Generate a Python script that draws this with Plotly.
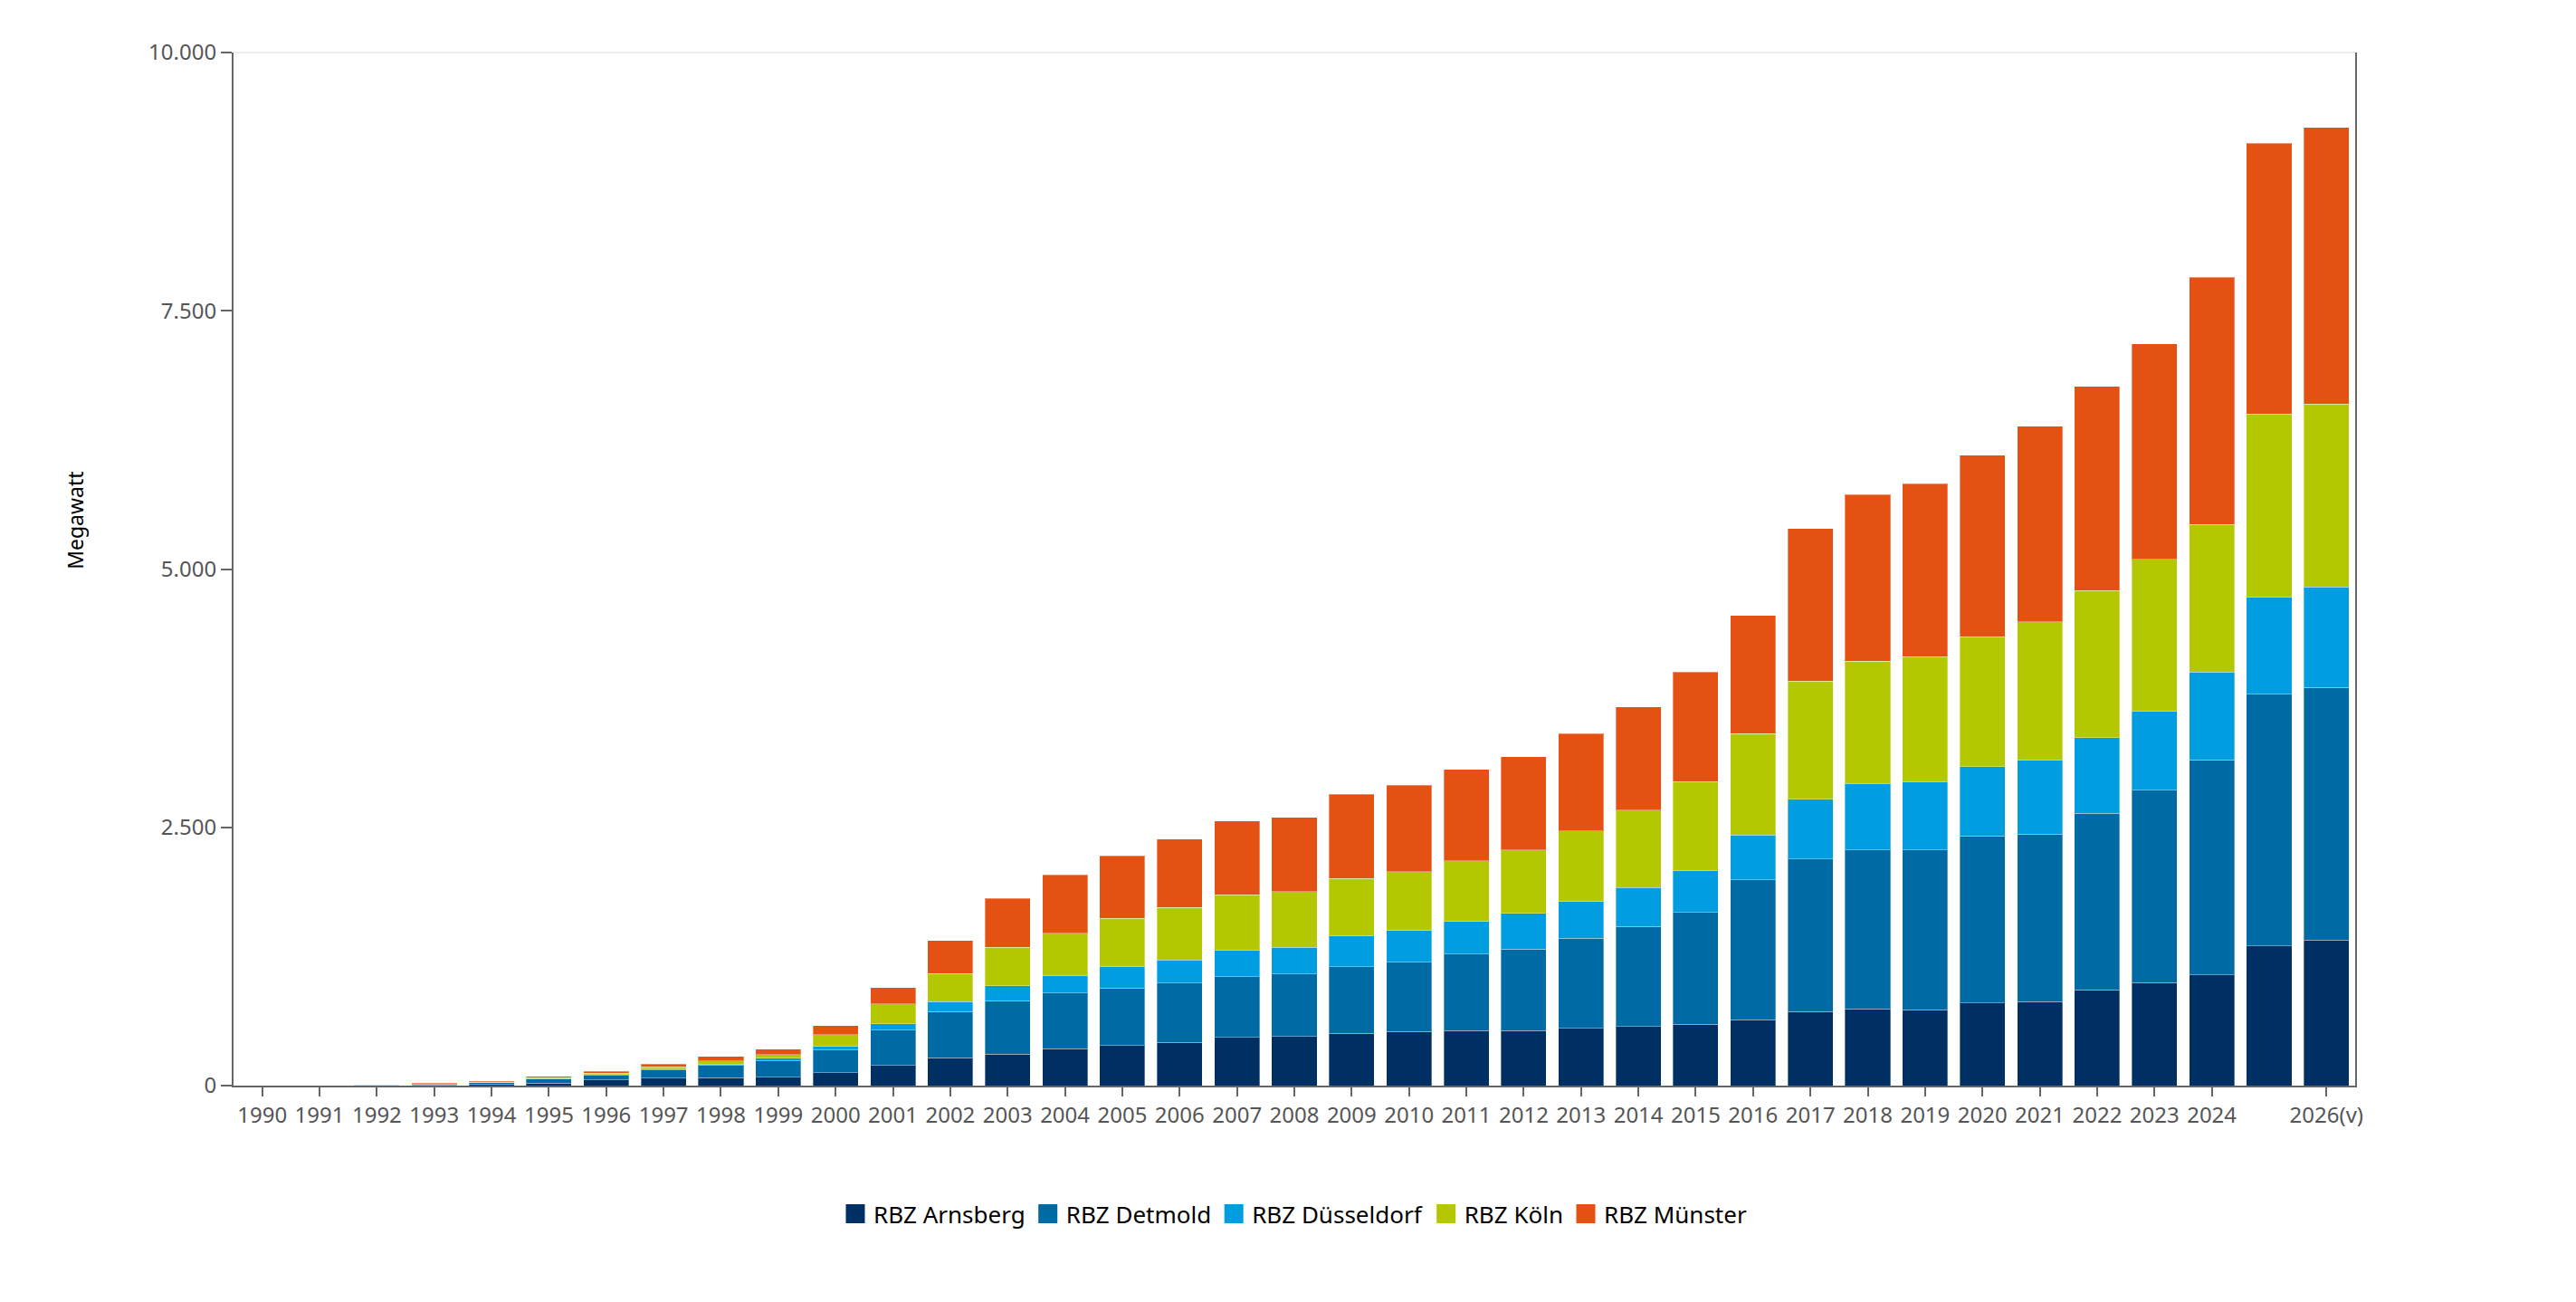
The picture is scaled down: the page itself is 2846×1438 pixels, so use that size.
import plotly.graph_objects as go

# Installed capacity per district (Regierungsbezirk), in megawatt
years = [str(y) for y in range(1990, 2026)] + ["2026(v)"]
tick_labels = [str(y) for y in range(1990, 2025)] + ["", "2026(v)"]

arnsberg = [0, 0, 2, 8, 15, 26, 53, 73, 76, 82, 126, 193, 268, 306, 355, 387, 419, 467, 475,
            508, 524, 532, 532, 556, 572, 596, 637, 717, 741, 733, 798, 814, 927, 999, 1072, 1354, 1410]
detmold = [0, 0, 2, 8, 14, 36, 47, 79, 120, 158, 219, 345, 448, 516, 539, 556, 572, 589, 605,
           644, 669, 741, 789, 870, 967, 1080, 1353, 1475, 1539, 1547, 1619, 1619, 1708, 1862, 2079, 2433, 2442]
duesseldorf = [0, 0, 1, 2, 3, 8, 8, 9, 9, 24, 40, 59, 96, 145, 170, 209, 226, 257, 258,
               298, 306, 314, 347, 355, 379, 403, 435, 580, 645, 661, 669, 718, 733, 765, 854, 943, 975]
koeln = [0, 0, 1, 2, 3, 6, 12, 21, 35, 38, 110, 193, 274, 371, 411, 468, 507, 532, 539,
         556, 572, 589, 612, 685, 749, 862, 984, 1144, 1185, 1209, 1257, 1337, 1426, 1467, 1426, 1773, 1772]
muenster = [0, 0, 4, 6, 6, 15, 18, 26, 41, 50, 85, 158, 319, 475, 564, 604, 661, 717, 718,
            814, 838, 886, 903, 943, 999, 1064, 1144, 1475, 1611, 1676, 1757, 1894, 1975, 2087, 2393, 2619, 2676]

series = [
    ("RBZ Arnsberg", arnsberg, "#003063"),
    ("RBZ Detmold", detmold, "#006aa5"),
    ("RBZ Düsseldorf", duesseldorf, "#009ee0"),
    ("RBZ Köln", koeln, "#b3c800"),
    ("RBZ Münster", muenster, "#e55113"),
]

FONT = "Noto Sans, Open Sans, sans-serif"

fig = go.Figure()
for name, vals, color in series:
    fig.add_trace(go.Bar(
        x=years, y=vals, name=name, showlegend=False,
        marker=dict(color=color, line=dict(color="rgba(255,255,255,0.35)", width=1)),
    ))
    # legend entry only: bigger square symbol than plotly's bar swatch
    fig.add_trace(go.Scatter(
        x=[None], y=[None], mode="markers", name=name,
        marker=dict(symbol="square", size=16, color=color, line=dict(color=color, width=5)),
    ))

fig.update_layout(
    barmode="stack",
    bargap=0.21,
    width=2846, height=1438,
    margin=dict(l=250, r=252, t=50, b=247),
    plot_bgcolor="white", paper_bgcolor="white",
    font=dict(family=FONT, size=24, color="#555555"),
    showlegend=True,
    legend=dict(
        orientation="h", x=0.5, xanchor="center", y=-0.124, yanchor="middle",
        font=dict(size=26, color="#000000"), traceorder="normal",
        itemwidth=30,
    ),
    xaxis=dict(
        type="category",
        tickmode="array",
        tickvals=[y for y, t in zip(years, tick_labels) if t],
        ticktext=[t for t in tick_labels if t],
        ticks="outside", ticklen=10, tickcolor="#666666", tickwidth=2,
        showline=True, linecolor="#666666", linewidth=2,
        showgrid=False, automargin=False,
        tickfont=dict(size=24, color="#555555"),
    ),
    yaxis=dict(
        range=[0, 10000],
        tickvals=[0, 2500, 5000, 7500, 10000],
        ticktext=["0", "2.500", "5.000", "7.500", "10.000"],
        ticks="outside", ticklen=12, tickcolor="#666666", tickwidth=2,
        showline=True, linecolor="#666666", linewidth=2, mirror=True,
        showgrid=False, zeroline=False, automargin=False,
        tickfont=dict(size=24, color="#555555"),
    ),
)

# faint top border line
fig.add_shape(type="line", xref="paper", yref="paper", x0=0, x1=1, y0=1, y1=1,
              line=dict(color="#eeeeee", width=2))

# y axis title
fig.add_annotation(
    text="Megawatt", xref="paper", yref="paper",
    x=-(250 - 75) / 2344, y=0.547, xanchor="center", yanchor="middle",
    textangle=-90, showarrow=False,
    font=dict(family=FONT, size=23, color="#000000"),
)

fig.write_html("out.html")
